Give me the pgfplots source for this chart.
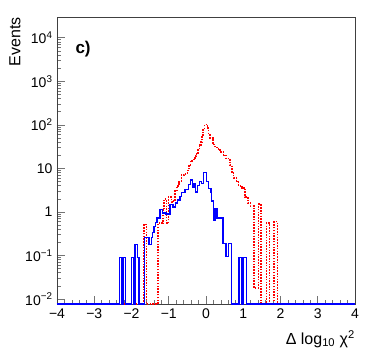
\documentclass[border=0pt]{standalone}
\usepackage{fontspec}
\setmainfont{Liberation Sans}
\usepackage{pgfplots}
\pgfplotsset{compat=1.18}
\usetikzlibrary{calc}
\pgfplotstableread{
x y
-4 0.0077
-1.66 0.52
-1.60 0.0077
-1.29 0.55
-1.16 1.2
-1.12 2.0
-1.06 0.55
-1.01 2.2
-0.93 1.7
-0.87 1.9
-0.83 3.0
-0.78 4.0
-0.72 5.0
-0.66 7.0
-0.58 7.5
-0.50 9
-0.46 12
-0.42 15
-0.37 16
-0.30 19
-0.26 22
-0.21 27
-0.17 34
-0.13 41
-0.11 59
-0.08 76
-0.04 102
0.04 84
0.07 59
0.10 50
0.19 38
0.22 32
0.29 28
0.38 24
0.47 20
0.53 17
0.64 12
0.69 8
0.74 6
0.82 5
0.87 4.0
0.96 3.6
1.05 2.2
1.12 1.6
1.19 1.35
1.29 0.018
1.41 1.5
1.47 0.0077
1.62 0.55
1.71 0.0077
1.83 0.6
1.92 0.0077
4 0.0077
}\redhist
\pgfplotstableread{
x y
-4 0.0077
-2.33 0.09
-2.26 0.0077
-2.23 0.09
-2.16 0.0077
-2.00 0.09
-1.93 0.0077
-1.91 0.18
-1.84 0.09
-1.80 0.0077
-1.65 0.26
-1.53 0.18
-1.46 0.26
-1.43 0.34
-1.40 0.46
-1.36 0.57
-1.32 0.72
-1.23 1.15
-1.16 0.95
-1.07 0.9
-0.97 1.5
-0.89 1.3
-0.82 1.6
-0.77 1.9
-0.70 2.3
-0.65 2.8
-0.56 3.3
-0.475 4.3
-0.41 5.4
-0.37 3.6
-0.32 4.5
-0.28 2.9
-0.23 4.0
-0.18 5.0
-0.115 4.5
-0.07 8.0
0.02 5.0
0.06 3.5
0.13 2.8
0.15 1.8
0.20 0.65
0.24 1.2
0.30 0.72
0.46 0.19
0.54 0.094
0.60 0.19
0.69 0.0077
0.89 0.09
0.97 0.0077
1.00 0.09
1.08 0.0077
4 0.0077
}\bluehist
\begin{document}
\begin{tikzpicture}
\begin{axis}[
  scale only axis, width=298pt, height=287pt,
  xmin=-4, xmax=4, ymode=log, ymin=0.0077, ymax=30000,
  clip=false,
  tick pos=left, tick align=inside,
  xtick={-4,-3,-2,-1,0,1,2,3,4},
  xticklabels={−4,−3,−2,−1,0,1,2,3,4},
  minor x tick num=4,
  ytick={0.01,0.1,1,10,100,1000,10000},
  yticklabels={10\textsuperscript{−2},10\textsuperscript{−1},1,10,10\textsuperscript{2},10\textsuperscript{3},10\textsuperscript{4}},
  major tick length=8pt, minor tick length=4pt,
  every tick/.style={black!55, line width=0.7pt},
  axis line style={black!75, line width=0.8pt},
  ticklabel style={font=\fontsize{14}{15}\selectfont},
  xticklabel style={yshift=-1pt},
  yticklabel style={xshift=-1pt},
]
\addplot[const plot, red, mark=none, line width=1.6pt, dash pattern=on 1.5pt off 1.3pt] table[x=x, y=y] {\redhist};
\addplot[const plot, blue, mark=none, line width=1.4pt] table[x=x, y=y] {\bluehist};
\node[font=\bfseries\fontsize{17}{18}\selectfont, anchor=center] at (axis cs:-3.30,5600) {c)};
\node[anchor=north east, inner sep=0pt, font=\fontsize{16}{17}\selectfont]
  at ($(rel axis cs:1,0)+(0pt,-26pt)$) {Δ log\textsubscript{10} χ\textsuperscript{2}};
\node[anchor=east, rotate=90, inner sep=0pt, font=\fontsize{16}{17}\selectfont]
  at ($(rel axis cs:0,1)+(-42pt,0pt)$) {Events};
\end{axis}
\pgfresetboundingbox
\path[use as bounding box] ($(current axis.south west)+(-57pt,-55pt)$) rectangle ($(current axis.north east)+(19pt,17pt)$);
\end{tikzpicture}
\end{document}
